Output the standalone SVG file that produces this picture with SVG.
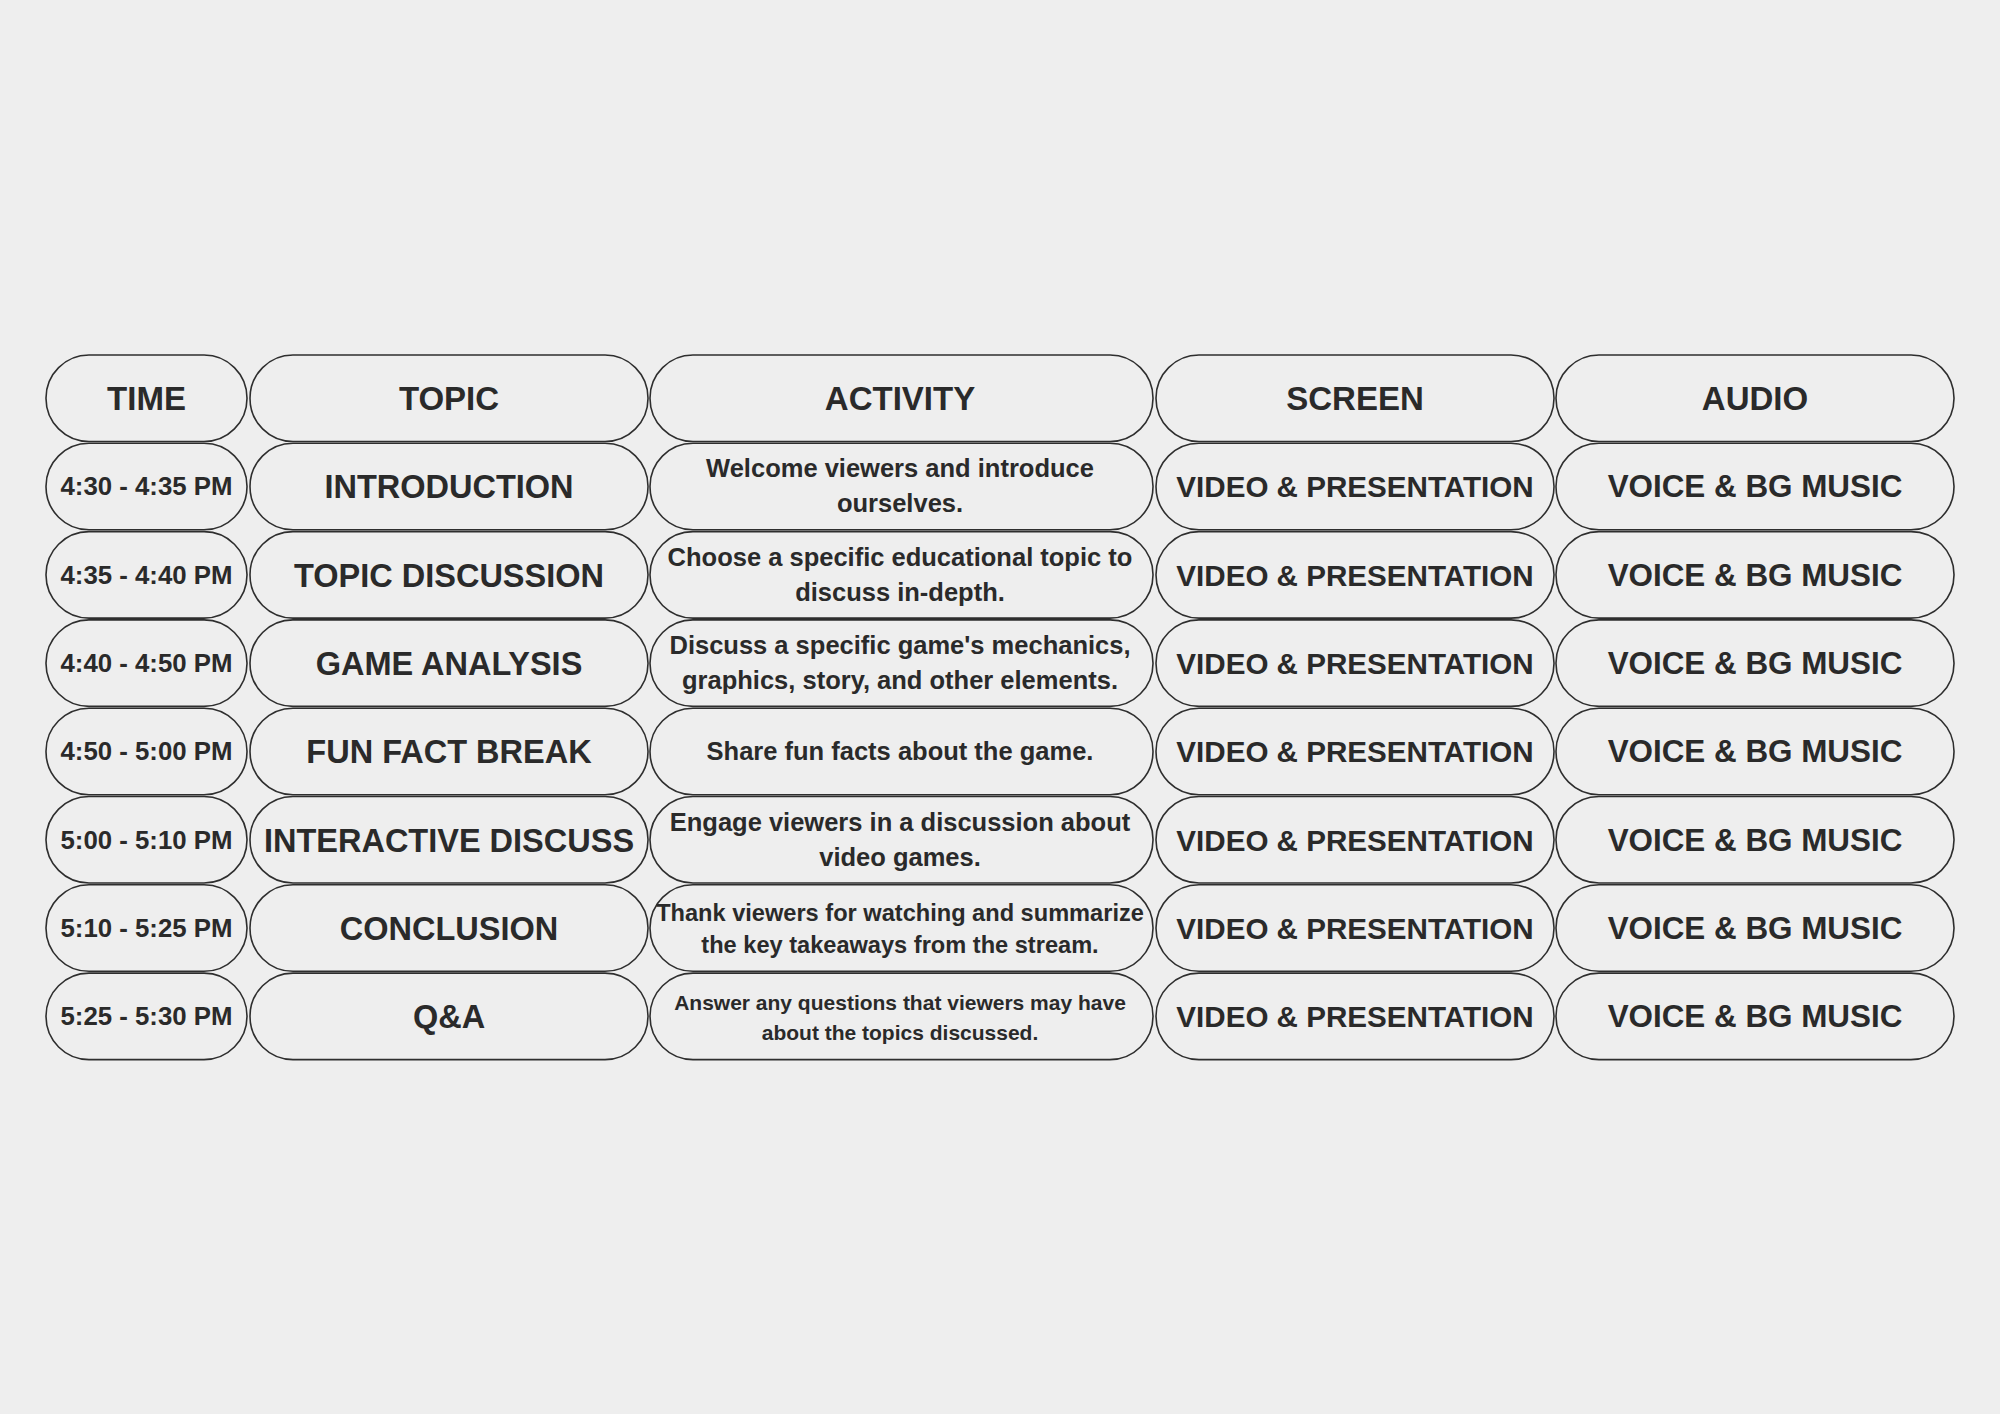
<svg xmlns="http://www.w3.org/2000/svg" width="2000" height="1414" viewBox="0 0 2000 1414">
<style>
.pill{fill:#eeeeee;stroke:#2e2e2e;stroke-width:1.6}
text{font-family:"Liberation Sans",Arial,sans-serif;font-weight:bold;fill:#2a2a2a;text-anchor:middle}
.h{font-size:33px}
.t{font-size:25.8px}
.p{font-size:32.5px}
.a{font-size:25.5px}
.s{font-size:29.6px}
.u{font-size:31.4px}
</style>
<rect width="2000" height="1414" fill="#eeeeee"/>
<g id="header">
<g id="h-time"><rect class="pill" x="46" y="355" width="201" height="86.5" rx="43"/><text class="h" x="146.5" y="410">TIME</text></g>
<g id="h-topic"><rect class="pill" x="250" y="355" width="398" height="86.5" rx="43"/><text class="h" x="449" y="410">TOPIC</text></g>
<g id="h-activity"><rect class="pill" x="650" y="355" width="503" height="86.5" rx="43"/><text class="h" x="900" y="410">ACTIVITY</text></g>
<g id="h-screen"><rect class="pill" x="1156" y="355" width="398" height="86.5" rx="43"/><text class="h" x="1355" y="410">SCREEN</text></g>
<g id="h-audio"><rect class="pill" x="1556" y="355" width="398" height="86.5" rx="43"/><text class="h" x="1755" y="410">AUDIO</text></g>
</g>
<g id="row1" transform="translate(0,0.3)">
<g id="r1-time"><rect class="pill" x="46" y="443" width="201" height="86.5" rx="43"/><text class="t" x="146.5" y="495">4:30 - 4:35 PM</text></g>
<g id="r1-topic"><rect class="pill" x="250" y="443" width="398" height="86.5" rx="43"/><text class="p" x="449" y="498">INTRODUCTION</text></g>
<g id="r1-activity"><rect class="pill" x="650" y="443" width="503" height="86.5" rx="43"/><text class="a" x="900" y="477">Welcome viewers and introduce</text><text class="a" x="900" y="512">ourselves.</text></g>
<g id="r1-screen"><rect class="pill" x="1156" y="443" width="398" height="86.5" rx="43"/><text class="s" x="1355" y="497">VIDEO &amp; PRESENTATION</text></g>
<g id="r1-audio"><rect class="pill" x="1556" y="443" width="398" height="86.5" rx="43"/><text class="u" x="1755" y="497">VOICE &amp; BG MUSIC</text></g>
</g>
<g id="row2" transform="translate(0,0.6)">
<g id="r2-time"><rect class="pill" x="46" y="531" width="201" height="86.5" rx="43"/><text class="t" x="146.5" y="583">4:35 - 4:40 PM</text></g>
<g id="r2-topic"><rect class="pill" x="250" y="531" width="398" height="86.5" rx="43"/><text class="p" x="449" y="586">TOPIC DISCUSSION</text></g>
<g id="r2-activity"><rect class="pill" x="650" y="531" width="503" height="86.5" rx="43"/><text class="a" x="900" y="565">Choose a specific educational topic to</text><text class="a" x="900" y="600">discuss in-depth.</text></g>
<g id="r2-screen"><rect class="pill" x="1156" y="531" width="398" height="86.5" rx="43"/><text class="s" x="1355" y="585">VIDEO &amp; PRESENTATION</text></g>
<g id="r2-audio"><rect class="pill" x="1556" y="531" width="398" height="86.5" rx="43"/><text class="u" x="1755" y="585">VOICE &amp; BG MUSIC</text></g>
</g>
<g id="row3" transform="translate(0,0.9)">
<g id="r3-time"><rect class="pill" x="46" y="619" width="201" height="86.5" rx="43"/><text class="t" x="146.5" y="671">4:40 - 4:50 PM</text></g>
<g id="r3-topic"><rect class="pill" x="250" y="619" width="398" height="86.5" rx="43"/><text class="p" x="449" y="674">GAME ANALYSIS</text></g>
<g id="r3-activity"><rect class="pill" x="650" y="619" width="503" height="86.5" rx="43"/><text class="a" x="900" y="653">Discuss a specific game's mechanics,</text><text class="a" x="900" y="688">graphics, story, and other elements.</text></g>
<g id="r3-screen"><rect class="pill" x="1156" y="619" width="398" height="86.5" rx="43"/><text class="s" x="1355" y="673">VIDEO &amp; PRESENTATION</text></g>
<g id="r3-audio"><rect class="pill" x="1556" y="619" width="398" height="86.5" rx="43"/><text class="u" x="1755" y="673">VOICE &amp; BG MUSIC</text></g>
</g>
<g id="row4" transform="translate(0,1.2)">
<g id="r4-time"><rect class="pill" x="46" y="707" width="201" height="86.5" rx="43"/><text class="t" x="146.5" y="759">4:50 - 5:00 PM</text></g>
<g id="r4-topic"><rect class="pill" x="250" y="707" width="398" height="86.5" rx="43"/><text class="p" x="449" y="762">FUN FACT BREAK</text></g>
<g id="r4-activity"><rect class="pill" x="650" y="707" width="503" height="86.5" rx="43"/><text class="a" x="900" y="759">Share fun facts about the game.</text></g>
<g id="r4-screen"><rect class="pill" x="1156" y="707" width="398" height="86.5" rx="43"/><text class="s" x="1355" y="761">VIDEO &amp; PRESENTATION</text></g>
<g id="r4-audio"><rect class="pill" x="1556" y="707" width="398" height="86.5" rx="43"/><text class="u" x="1755" y="761">VOICE &amp; BG MUSIC</text></g>
</g>
<g id="row5" transform="translate(0,1.5)">
<g id="r5-time"><rect class="pill" x="46" y="795" width="201" height="86.5" rx="43"/><text class="t" x="146.5" y="847">5:00 - 5:10 PM</text></g>
<g id="r5-topic"><rect class="pill" x="250" y="795" width="398" height="86.5" rx="43"/><text class="p" x="449" y="850">INTERACTIVE DISCUSS</text></g>
<g id="r5-activity"><rect class="pill" x="650" y="795" width="503" height="86.5" rx="43"/><text class="a" x="900" y="829">Engage viewers in a discussion about</text><text class="a" x="900" y="864">video games.</text></g>
<g id="r5-screen"><rect class="pill" x="1156" y="795" width="398" height="86.5" rx="43"/><text class="s" x="1355" y="849">VIDEO &amp; PRESENTATION</text></g>
<g id="r5-audio"><rect class="pill" x="1556" y="795" width="398" height="86.5" rx="43"/><text class="u" x="1755" y="849">VOICE &amp; BG MUSIC</text></g>
</g>
<g id="row6" transform="translate(0,1.8)">
<g id="r6-time"><rect class="pill" x="46" y="883" width="201" height="86.5" rx="43"/><text class="t" x="146.5" y="935">5:10 - 5:25 PM</text></g>
<g id="r6-topic"><rect class="pill" x="250" y="883" width="398" height="86.5" rx="43"/><text class="p" x="449" y="938">CONCLUSION</text></g>
<g id="r6-activity"><rect class="pill" x="650" y="883" width="503" height="86.5" rx="43"/><text class="a" style="font-size:23.6px" x="900" y="919">Thank viewers for watching and summarize</text><text class="a" style="font-size:23.6px" x="900" y="951">the key takeaways from the stream.</text></g>
<g id="r6-screen"><rect class="pill" x="1156" y="883" width="398" height="86.5" rx="43"/><text class="s" x="1355" y="937">VIDEO &amp; PRESENTATION</text></g>
<g id="r6-audio"><rect class="pill" x="1556" y="883" width="398" height="86.5" rx="43"/><text class="u" x="1755" y="937">VOICE &amp; BG MUSIC</text></g>
</g>
<g id="row7" transform="translate(0,2.1)">
<g id="r7-time"><rect class="pill" x="46" y="971" width="201" height="86.5" rx="43"/><text class="t" x="146.5" y="1023">5:25 - 5:30 PM</text></g>
<g id="r7-topic"><rect class="pill" x="250" y="971" width="398" height="86.5" rx="43"/><text class="p" x="449" y="1026">Q&amp;A</text></g>
<g id="r7-activity"><rect class="pill" x="650" y="971" width="503" height="86.5" rx="43"/><text class="a" style="font-size:21px" x="900" y="1008">Answer any questions that viewers may have</text><text class="a" style="font-size:21px" x="900" y="1038">about the topics discussed.</text></g>
<g id="r7-screen"><rect class="pill" x="1156" y="971" width="398" height="86.5" rx="43"/><text class="s" x="1355" y="1025">VIDEO &amp; PRESENTATION</text></g>
<g id="r7-audio"><rect class="pill" x="1556" y="971" width="398" height="86.5" rx="43"/><text class="u" x="1755" y="1025">VOICE &amp; BG MUSIC</text></g>
</g>
<g id="connectors"></g>
</svg>
